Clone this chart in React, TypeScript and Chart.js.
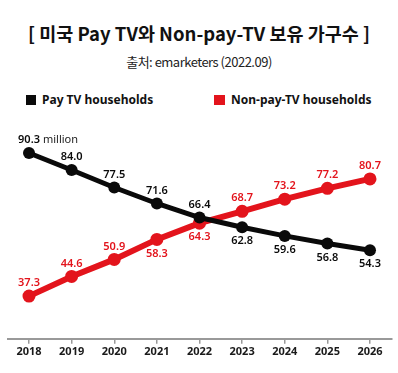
import React, { useEffect, useRef } from "react";
import { Chart, registerables } from "chart.js";

Chart.register(...registerables);

const years = ["2018", "2019", "2020", "2021", "2022", "2023", "2024", "2025", "2026"];
const payTV = [90.3, 84.0, 77.5, 71.6, 66.4, 62.8, 59.6, 56.8, 54.3];
const nonPayTV = [37.3, 44.6, 50.9, 58.3, 64.3, 68.7, 73.2, 77.2, 80.7];
const payLabelPos = ["above", "above", "above", "above", "above", "below", "below", "below", "below"];
const nonPayLabelPos = ["above", "above", "above", "below", "below", "above", "above", "above", "above"];

const BLACK = "#0a0a0a";
const RED = "#e3141c";
const FONT = "'Noto Sans', 'DejaVu Sans', sans-serif";

const labelPlugin = {
  id: "valueLabels",
  afterDatasetsDraw(chart: any) {
    const ctx = chart.ctx;
    chart.data.datasets.forEach((ds: any, di: number) => {
      const meta = chart.getDatasetMeta(di);
      const pos = di === 0 ? payLabelPos : nonPayLabelPos;
      meta.data.forEach((pt: any, i: number) => {
        const v = ds.data[i];
        const txt = v.toFixed(1);
        ctx.save();
        ctx.font = `600 11px ${FONT}`;
        ctx.fillStyle = ds.borderColor;
        ctx.textAlign = "center";
        ctx.textBaseline = "middle";
        const y = pos[i] === "above" ? pt.y - 13 : pt.y + 14;
        ctx.fillText(txt, pt.x, y);
        if (di === 0 && i === 0) {
          const w = ctx.measureText(txt).width;
          ctx.font = `400 11px ${FONT}`;
          ctx.textAlign = "left";
          ctx.fillStyle = "#222";
          ctx.fillText("million", pt.x + w / 2 + 3, y);
        }
        ctx.restore();
      });
    });
  },
};

export default function App() {
  const ref = useRef<HTMLCanvasElement>(null);
  useEffect(() => {
    const chart = new Chart(ref.current!, {
      type: "line",
      data: {
        labels: years,
        datasets: [
          {
            label: "Pay TV households",
            data: payTV,
            borderColor: BLACK,
            backgroundColor: BLACK,
            borderWidth: 5,
            pointRadius: 6,
            pointBackgroundColor: BLACK,
            pointBorderWidth: 0,
            tension: 0,
          },
          {
            label: "Non-pay-TV households",
            data: nonPayTV,
            borderColor: RED,
            backgroundColor: RED,
            borderWidth: 6,
            pointRadius: 6.5,
            pointBackgroundColor: RED,
            pointBorderWidth: 0,
            tension: 0,
          },
        ],
      },
      options: {
        animation: false,
        responsive: false,
        maintainAspectRatio: false,
        layout: { padding: { left: 7.7, right: 6.7, top: 130, bottom: 14 } },
        plugins: {
          legend: { display: false },
          tooltip: { enabled: false },
        },
        scales: {
          x: {
            offset: true,
            grid: {
              display: true,
              drawOnChartArea: false,
              drawTicks: true,
              tickLength: 5,
              color: "#999",
              lineWidth: 1.5,
            },
            border: { display: true, color: "#999", width: 2 },
            ticks: {
              padding: 1,
              color: "#1a1a1a",
              font: { family: FONT, size: 11, weight: "bold" as any },
            },
          },
          y: {
            display: false,
            min: 21.5,
            max: 98.8,
          },
        },
      },
      plugins: [labelPlugin],
    });
    return () => chart.destroy();
  }, []);

  return (
    <div style={{ position: "fixed", left: 0, top: 0, width: 398, height: 373, background: "#fff" }}>
      <div
        style={{
          position: "absolute",
          top: 21,
          left: 0,
          width: 398,
          textAlign: "center",
          fontFamily: "'Noto Sans CJK KR', sans-serif",
          fontWeight: 700,
          fontSize: 18.5,
          lineHeight: "24px",
          color: "#111",
        }}
      >
        [ 미국 Pay TV와 Non-pay-TV 보유 가구수 ]
      </div>
      <div
        style={{
          position: "absolute",
          top: 54,
          left: 0,
          width: 398,
          textAlign: "center",
          fontFamily: "'Noto Sans CJK KR', sans-serif",
          fontSize: 13,
          lineHeight: "16px",
          letterSpacing: "-0.5px",
          color: "#222",
        }}
      >
        출처: emarketers (2022.09)
      </div>
      <div style={{ position: "absolute", left: 26, top: 95, width: 10, height: 10, background: BLACK }} />
      <div
        style={{
          position: "absolute",
          left: 42,
          top: 92,
          fontFamily: FONT,
          fontWeight: 700,
          fontSize: 12,
          lineHeight: "16px",
          color: "#111",
        }}
      >
        Pay TV households
      </div>
      <div style={{ position: "absolute", left: 214, top: 95, width: 11, height: 10, background: RED }} />
      <div
        style={{
          position: "absolute",
          left: 231,
          top: 92,
          fontFamily: FONT,
          fontWeight: 700,
          fontSize: 12,
          lineHeight: "16px",
          color: "#111",
        }}
      >
        Non-pay-TV households
      </div>
      <canvas ref={ref} width={398} height={373} style={{ position: "absolute", left: 0, top: 0 }} />
    </div>
  );
}
